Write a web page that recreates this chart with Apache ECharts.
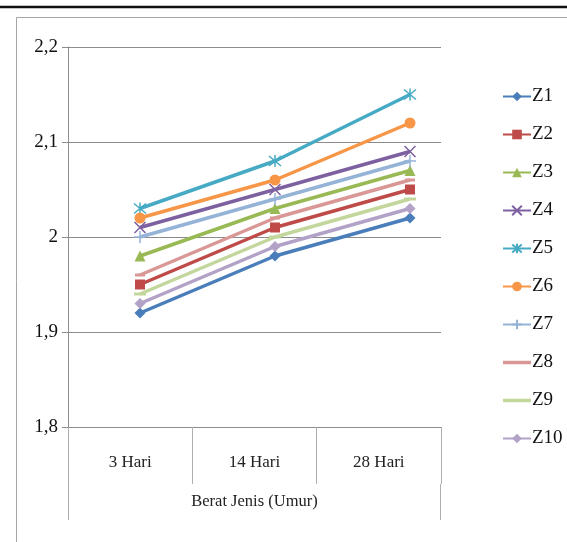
<!DOCTYPE html>
<html>
<head>
<meta charset="utf-8">
<script src="https://cdn.jsdelivr.net/npm/echarts@6/dist/echarts.min.js"></script>
<style>html,body{margin:0;padding:0;background:#fff}#c{width:567px;height:542px}</style>
</head>
<body>
<div id="c"></div>
<script>
const categories = ['3 Hari', '14 Hari', '28 Hari'];
const seriesNames = ['Z1','Z2','Z3','Z4','Z5','Z6','Z7','Z8','Z9','Z10'];
const Z1 = [1.92, 1.98, 2.02];
const Z2 = [1.95, 2.01, 2.05];
const Z3 = [1.98, 2.03, 2.07];
const Z4 = [2.01, 2.05, 2.09];
const Z5 = [2.03, 2.08, 2.15];
const Z6 = [2.02, 2.06, 2.12];
const Z7 = [2.00, 2.04, 2.08];
const Z8 = [1.96, 2.02, 2.06];
const Z9 = [1.94, 2.00, 2.04];
const Z10 = [1.93, 1.99, 2.03];
const yTicks = [1.8, 1.9, 2.0, 2.1, 2.2];
const axisName = 'Berat Jenis (Umur)';

const values = [Z1, Z2, Z3, Z4, Z5, Z6, Z7, Z8, Z9, Z10];
const colors = ['#4A7EBB','#BE4B48','#98B954','#7D60A0','#46AAC5','#F79646','#95B3D7','#D99795','#C3D69B','#B2A2C7'];
const symbols = [
  'diamond','rect','triangle',
  'path://M0,0 L10,10 M10,0 L0,10',
  'path://M0,0 L10,10 M10,0 L0,10 M5,-1 L5,11',
  'circle',
  'path://M5,0 L5,10 M0,5 L10,5',
  'rect','rect','diamond'
];
const stroked = [false,false,false,true,true,false,true,false,false,false];
const symSizes = [11,10,11,11,12,11,12,[10,3],[12,3],11];
const dashIcon = 'path://M0,0 L28,0 L28,3.5 L0,3.5 Z';

const serif = '"Liberation Serif", "DejaVu Serif", serif';
const fmt = v => String(Math.round(v*10)/10).replace('.', ',');

const series = values.map((d, i) => ({
  name: seriesNames[i],
  type: 'line',
  xAxisIndex: 1,
  yAxisIndex: 1,
  data: d,
  symbol: symbols[i],
  symbolSize: symSizes[i],
  lineStyle: { color: colors[i], width: 3.5 },
  itemStyle: stroked[i]
    ? { color: 'rgba(0,0,0,0)', borderColor: colors[i], borderWidth: 1.5 }
    : { color: colors[i] },
  emphasis: { disabled: true },
  animation: false
}));

const legendData = seriesNames.map((n, i) =>
  (symbols[i] === 'rect' && Array.isArray(symSizes[i])) ? { name: n, icon: dashIcon } : { name: n });

const chart = echarts.init(document.getElementById('c'), null, { renderer: 'canvas' });
chart.setOption({
  animation: false,
  backgroundColor: '#fff',
  textStyle: { fontFamily: serif },
  grid: [
    { left: 68, right: 126, top: 47, bottom: 115 },
    { left: 140, right: 157, top: 47, bottom: 115 }
  ],
  xAxis: [
    {
      type: 'category', gridIndex: 0, data: categories, boundaryGap: true,
      axisLine: { show: true, lineStyle: { color: '#8c8c8c', width: 1 } },
      axisTick: { show: true, inside: false, length: 57, lineStyle: { color: '#b0b0b0' } },
      axisLabel: { color: '#222', fontSize: 17, fontFamily: serif, margin: 27 },
      name: axisName, nameLocation: 'middle', nameGap: 66,
      nameTextStyle: { color: '#222', fontSize: 16.5, fontFamily: serif }
    },
    {
      type: 'category', gridIndex: 1, data: categories, boundaryGap: false, show: false
    }
  ],
  yAxis: [
    {
      type: 'value', gridIndex: 0, min: 1.8, max: 2.2, interval: 0.1,
      axisLine: { show: true, lineStyle: { color: '#8c8c8c' } },
      axisTick: { show: true, length: 6, lineStyle: { color: '#8c8c8c' } },
      splitLine: { show: true, lineStyle: { color: '#8c8c8c', width: 1 } },
      axisLabel: { color: '#111', fontSize: 19, fontFamily: serif, margin: 10,
        formatter: v => yTicks.some(t => Math.abs(t - v) < 1e-9) ? fmt(v) : '' }
    },
    {
      type: 'value', gridIndex: 1, min: 1.8, max: 2.2, interval: 0.1, show: false,
      splitLine: { show: false }
    }
  ],
  legend: {
    orient: 'vertical', left: 502, top: 87, padding: 0,
    itemWidth: 28, itemHeight: 12, itemGap: 19,
    data: legendData,
    textStyle: { color: '#111', fontSize: 19, fontFamily: serif, padding: [0,0,0,-4] },
    selectedMode: false
  },
  graphic: [
    { type: 'line', shape: { x1: 0, y1: 7, x2: 567, y2: 7 }, style: { stroke: '#111', lineWidth: 2.5 }, silent: true },
    { type: 'rect', shape: { x: 16.5, y: 17.5, width: 700, height: 700 }, style: { fill: 'none', stroke: '#a6a6a6', lineWidth: 1 }, silent: true, z: -10 },
    { type: 'line', shape: { x1: 68.5, y1: 484, x2: 68.5, y2: 520 }, style: { stroke: '#b0b0b0', lineWidth: 1 }, silent: true },
    { type: 'line', shape: { x1: 440.5, y1: 484, x2: 440.5, y2: 520 }, style: { stroke: '#b0b0b0', lineWidth: 1 }, silent: true }
  ],
  series: series
});
</script>
</body>
</html>
